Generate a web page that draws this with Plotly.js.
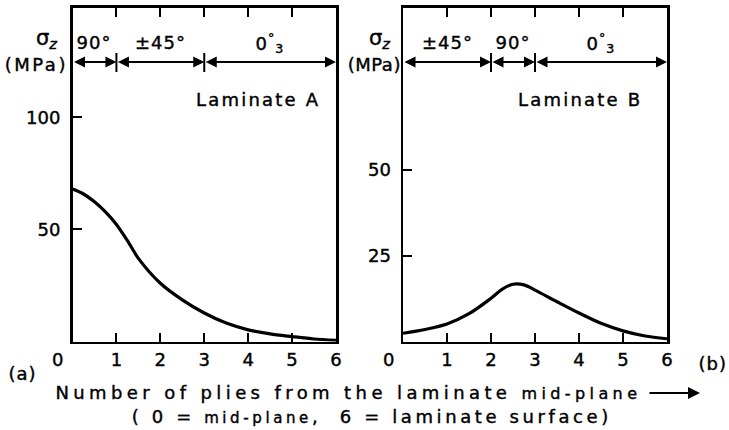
<!DOCTYPE html>
<html><head><meta charset="utf-8">
<script src="https://cdn.plot.ly/plotly-3.0.1.min.js"></script>
<style>html,body{margin:0;padding:0;background:#fff}
.main-svg text{stroke:#000;stroke-width:0.4px}</style>
</head><body><div id="chart" style="width:729px;height:430px"></div>
<script>
// ---- data ----
const xTickVals = [1, 2, 3, 4, 5, 6];
const xTickText = ['1', '2', '3', '4', '5', '6'];
const yTickValsA = [50, 100];
const yTickValsB = [25, 50];

const xA = [0, 0.25, 0.5, 0.75, 1.0, 1.25, 1.5, 2.0, 2.5, 3.0, 3.5, 4.0, 4.5, 5.0, 5.5, 6.0];
const yA = [68, 65.8, 62.3, 57.8, 52.2, 45, 37.1, 26, 18.6, 12.7, 8.2, 5.2, 3.4, 2.2, 1.1, 0.5];

const xB = [0, 0.5, 1, 1.5, 2, 2.25, 2.5, 2.75, 3, 3.5, 4, 4.5, 5, 5.5, 6];
const yB = [2.4, 3.5, 5.1, 8.1, 12.6, 15.2, 16.7, 16.5, 15.0, 11.6, 8.3, 5.3, 3.1, 1.6, 0.8];

const plyBoundsA = [0, 1, 3, 6];
const plyLabelsA = ['90°', '±45°', '0<sup>°</sup><sub>3</sub>'];
const plyBoundsB = [0, 2, 3, 6];
const plyLabelsB = ['±45°', '90°', '0<sup>°</sup><sub>3</sub>'];

const yLabel = 'σ<sub><i>z</i></sub>';
const yUnit = '(MPa)';
const titleA = 'Laminate A';
const titleB = 'Laminate B';
const xLine1 = 'Number of plies from the laminate <span style="font-size:16px">mid-plane</span>';
const xLine2 = '( 0 = <span style="font-size:15px">mid-plane</span>,  6 = laminate surface)';

// ---- rendering ----
const FONT = 'DejaVu Sans';
const W = 729, H = 430;
const px = v => v / W;
const py = v => (H - v) / H;

const axisX = (dom, anchor) => ({
  domain: dom, anchor: anchor, range: [0, 6],
  tickvals: xTickVals, ticktext: xTickText,
  ticks: 'inside', ticklen: 9, tickwidth: 2, tickcolor: '#000',
  mirror: 'ticks', showline: true, linewidth: 2.5, linecolor: '#000',
  showgrid: false, zeroline: false, fixedrange: true,
  tickfont: {family: FONT, size: 18, color: '#000'}
});
const axisY = (range, tv, anchor) => ({
  domain: [py(341.5), py(7.5)], anchor: anchor, range: range,
  tickvals: tv, ticks: 'inside', ticklen: 9, tickwidth: 2, tickcolor: '#000',
  mirror: true, showline: true, linewidth: 2.5, linecolor: '#000',
  showgrid: false, zeroline: false, fixedrange: true,
  ticklabelstandoff: 6,
  tickfont: {family: FONT, size: 18, color: '#000'}
});

const traces = [
  {x: xA, y: yA, xaxis: 'x', yaxis: 'y', mode: 'lines',
   line: {color: '#000', width: 3.2, shape: 'spline', smoothing: 0.8}, hoverinfo: 'skip'},
  {x: xB, y: yB, xaxis: 'x2', yaxis: 'y2', mode: 'lines',
   line: {color: '#000', width: 3.2, shape: 'spline', smoothing: 0.9}, hoverinfo: 'skip'}
];

const ann = [];
const shapes = [];
const spacing = {};
function addAnn(a, ls) {
  ann.push(Object.assign({showarrow: false, xanchor: 'center', yanchor: 'middle',
                          font: {family: FONT, size: 18, color: '#000'}}, a));
  if (ls) spacing[ann.length - 1] = ls;
}

function header(bounds, labels, xr) {
  for (let i = 0; i < labels.length; i++) {
    const a = bounds[i], b = bounds[i + 1];
    addAnn({xref: xr, yref: 'paper', x: (a + b) / 2, y: py(43), text: labels[i]}, 1);
    ann.push({xref: xr, yref: 'paper', x: b, y: py(62), axref: xr, ayref: 'pixel',
              ax: a, ay: 0, text: '', showarrow: true, arrowside: 'end+start',
              arrowhead: 2, arrowsize: 1.1, arrowwidth: 2, arrowcolor: '#000', standoff: 0, startstandoff: 0});
  }
  for (let i = 1; i < bounds.length - 1; i++) {
    shapes.push({type: 'line', xref: xr, yref: 'paper', x0: bounds[i], x1: bounds[i],
                 y0: py(53), y1: py(72), line: {color: '#000', width: 2}});
  }
}
header(plyBoundsA, plyLabelsA, 'x');
header(plyBoundsB, plyLabelsB, 'x2');

// y labels
addAnn({xref: 'paper', yref: 'paper', x: px(47), y: py(39), text: yLabel, font: {family: FONT, size: 21, color: '#000'}});
addAnn({xref: 'paper', yref: 'paper', x: px(36), y: py(64), text: yUnit}, 2.5);
addAnn({xref: 'paper', yref: 'paper', x: px(379), y: py(39), text: yLabel, font: {family: FONT, size: 21, color: '#000'}});
addAnn({xref: 'paper', yref: 'paper', x: px(374), y: py(64), text: yUnit}, 0.5);

// panel titles
addAnn({xref: 'paper', yref: 'paper', x: px(258), y: py(100), text: titleA}, 2.2);
addAnn({xref: 'paper', yref: 'paper', x: px(580), y: py(99), text: titleB}, 2.2);

// zero tick labels (offset left of axis)
addAnn({xref: 'x', yref: 'paper', x: 0, xshift: -15, y: py(360), text: '0'});
addAnn({xref: 'x2', yref: 'paper', x: 0, xshift: -15, y: py(360), text: '0'});

// panel letters
addAnn({xref: 'paper', yref: 'paper', x: px(22), y: py(373), text: '(a)'}, 1);
addAnn({xref: 'paper', yref: 'paper', x: px(712), y: py(363), text: '(b)'}, 1);

// x axis title lines
addAnn({xref: 'paper', yref: 'paper', x: px(348), y: py(392), text: xLine1}, 4.4);
ann.push({xref: 'paper', yref: 'paper', x: px(700), y: py(393), axref: 'pixel', ayref: 'pixel',
          ax: -52, ay: 0, text: '', showarrow: true, arrowhead: 2, arrowsize: 1.2, arrowwidth: 2,
          arrowcolor: '#000', standoff: 0});
addAnn({xref: 'paper', yref: 'paper', x: px(372), y: py(416), text: xLine2}, 3.6);

// css letter spacing
let css = '';
for (const k in spacing) css += `g.annotation[data-index="${k}"] text{letter-spacing:${spacing[k]}px}\n`;
const st = document.createElement('style'); st.textContent = css; document.head.appendChild(st);

const layout = {
  width: W, height: H, margin: {l: 0, r: 0, t: 0, b: 0},
  paper_bgcolor: '#fff', plot_bgcolor: '#fff', showlegend: false,
  font: {family: FONT, color: '#000'},
  xaxis: axisX([px(72.5), px(336)], 'y'),
  yaxis: axisY([0, 149], yTickValsA, 'x'),
  xaxis2: axisX([px(403), px(667)], 'y2'),
  yaxis2: axisY([0, 97.4], yTickValsB, 'x2'),
  annotations: ann, shapes: shapes
};
Plotly.newPlot('chart', traces, layout, {staticPlot: true, displayModeBar: false});
</script></body></html>
